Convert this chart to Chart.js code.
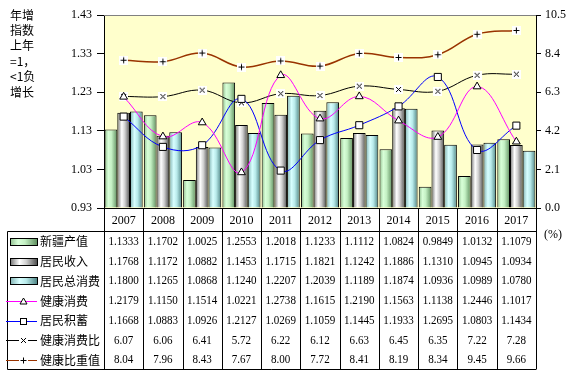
<!DOCTYPE html>
<html>
<head>
<meta charset="utf-8">
<script src="https://cdn.jsdelivr.net/npm/chart.js@4.4.0/dist/chart.umd.min.js"></script>
<style>
html,body{margin:0;padding:0;background:#fff;}
#wrap{position:relative;width:577px;height:375px;}
</style>
</head>
<body>
<div id="wrap"><canvas id="c" width="577" height="375"></canvas></div>
<script>
// ---- data ----
const years = ['2007','2008','2009','2010','2011','2012','2013','2014','2015','2016','2017'];
const xinjiang = [1.1333,1.1702,1.0025,1.2553,1.2018,1.1233,1.1112,1.0824,0.9849,1.0132,1.1079];
const income = [1.1768,1.1172,1.0882,1.1453,1.1715,1.1821,1.1242,1.1886,1.1310,1.0945,1.0934];
const consumption = [1.1800,1.1265,1.0868,1.1240,1.2207,1.2039,1.1189,1.1874,1.0936,1.0989,1.0780];
const health = [1.2179,1.1150,1.1514,1.0221,1.2738,1.1615,1.2190,1.1563,1.1138,1.2446,1.1017];
const savings = [1.1668,1.0883,1.0926,1.2127,1.0269,1.1059,1.1445,1.1933,1.2695,1.0803,1.1434];
const healthRatio = [6.07,6.06,6.41,5.72,6.22,6.12,6.63,6.45,6.35,7.22,7.28];
const healthWeight = [8.04,7.96,8.43,7.67,8.00,7.72,8.41,8.19,8.34,9.45,9.66];
const leftTicks = [0.93,1.03,1.13,1.23,1.33,1.43];
const rightTicks = [0,2.1,4.2,6.3,8.4,10.5];
const names = ['新疆产值','居民收入','居民总消费','健康消费','居民积蓄','健康消费比','健康比重值'];
const sideNote = ['年增','指数','上年','=1，','<1负','增长'];
const unitLabel = '(%)';

// ---- styles ----
const NUM_FONT = "'Liberation Serif','Times New Roman',serif";
const CJK_FONT = "'Noto Sans CJK SC','Noto Sans',sans-serif";
const gradStops = [
  [[0,'#8fbf8f'],[0.3,'#d8ffd8'],[0.55,'#c4f0c4'],[1,'#5f8f5f']],
  [[0,'#707070'],[0.35,'#ffffff'],[0.6,'#d0d0d0'],[1,'#505050']],
  [[0,'#7fb0b0'],[0.35,'#d8ffff'],[0.6,'#b8eaea'],[1,'#4f8585']]
];
const CAT_PCT = 0.97, BAR_PCT = 1.0;

function makeGrad(g, x0, x1, stops){
  const gr = g.createLinearGradient(x0,0,x1,0);
  stops.forEach(s=>gr.addColorStop(s[0],s[1]));
  return gr;
}
function barBg(k){
  return function(ctx){
    const chart = ctx.chart;
    const xs = chart.scales.x;
    if(!xs || !chart.chartArea || ctx.dataIndex===undefined) return gradStops[k][1][1];
    const cw = xs.width / years.length;
    const cx = xs.getPixelForValue(ctx.dataIndex);
    const bw = cw*CAT_PCT*BAR_PCT/3;
    const left = cx - cw*CAT_PCT/2 + k*bw;
    return makeGrad(chart.ctx, left, left+bw, gradStops[k]);
  };
}
function markerCanvas(type){
  const c = document.createElement('canvas');
  c.width = 9; c.height = 9;
  const g = c.getContext('2d');
  g.fillStyle = '#fff'; g.fillRect(0,0,9,9);
  g.strokeStyle = '#000'; g.lineWidth = 1;
  g.beginPath();
  if(type==='plus'){
    g.moveTo(4.5,1.5); g.lineTo(4.5,7.5); g.moveTo(1.5,4.5); g.lineTo(7.5,4.5);
  } else {
    g.moveTo(2,2); g.lineTo(7,7); g.moveTo(7,2); g.lineTo(2,7);
  }
  g.stroke();
  return c;
}
const plusImg = markerCanvas('plus');
const crossImg = markerCanvas('cross');

const barDs = (label, data, k) => ({
  type:'bar', label, data, yAxisID:'y', order:1, base:leftTicks[0],
  backgroundColor: barBg(k), borderColor:'#000', borderWidth:1,
  categoryPercentage:CAT_PCT, barPercentage:BAR_PCT
});
const lineDs = (label, data, axis, color, style, r, bw) => ({
  type:'line', label, data, yAxisID:axis, order:0,
  borderColor:color, borderWidth:bw, tension:0.4, fill:false,
  pointStyle:style, pointRadius:r, pointBackgroundColor:'#fff',
  pointBorderColor:'#000', pointBorderWidth:1
});

const tablePlugin = {
  id:'tbl',
  beforeDraw(chart){
    const {ctx, chartArea:a} = chart;
    ctx.save();
    ctx.fillStyle = '#ffffcc';
    ctx.fillRect(a.left, a.top, a.right-a.left, a.bottom-a.top);
    ctx.restore();
  },
  afterDraw(chart){
    const {ctx, chartArea:a} = chart;
    const n = years.length;
    const cw = (a.right-a.left)/n;
    const hdr = Math.round(a.bottom + 23) + 0.5;
    const rowH = 19.7;
    const bottom = Math.round(hdr + rowH*7) + 0.5;
    const tl = 7.5;
    ctx.save();
    // top border of plot
    ctx.strokeStyle = '#808080'; ctx.lineWidth = 1;
    ctx.beginPath(); ctx.moveTo(a.left, Math.round(a.top)+0.5); ctx.lineTo(a.right, Math.round(a.top)+0.5); ctx.stroke();
    // table lines
    ctx.strokeStyle = '#000';
    ctx.beginPath();
    ctx.moveTo(tl, hdr); ctx.lineTo(a.right, hdr);
    ctx.moveTo(tl, bottom); ctx.lineTo(a.right, bottom);
    ctx.moveTo(tl, hdr); ctx.lineTo(tl, bottom);
    for(let i=0;i<=n;i++){
      const x = Math.round(a.left + i*cw) + 0.5;
      ctx.moveTo(x, a.bottom); ctx.lineTo(x, bottom);
    }
    ctx.stroke();

    const rows = [
      {vals:xinjiang, dec:4, key:'bar', k:0},
      {vals:income, dec:4, key:'bar', k:1},
      {vals:consumption, dec:4, key:'bar', k:2},
      {vals:health, dec:4, key:'tri', color:'#ff00ff'},
      {vals:savings, dec:4, key:'rect', color:'#0000ff'},
      {vals:healthRatio, dec:2, key:'img', img:crossImg, color:'#000'},
      {vals:healthWeight, dec:2, key:'img', img:plusImg, color:'#993300'}
    ];
    rows.forEach((r, ri)=>{
      const cy = hdr + rowH*(ri+0.5) + 0.5;
      // legend key
      if(r.key==='bar'){
        ctx.fillStyle = makeGrad(ctx, 10, 37, gradStops[r.k]);
        ctx.fillRect(10, Math.round(cy)-3, 27, 6);
        ctx.strokeStyle = '#000';
        ctx.strokeRect(10.5, Math.round(cy)-3.5, 27, 7);
      } else {
        ctx.strokeStyle = r.color; ctx.lineWidth = 1;
        ctx.beginPath(); ctx.moveTo(6, Math.round(cy)+0.5); ctx.lineTo(37, Math.round(cy)+0.5); ctx.stroke();
        const mx = 23.5, my = Math.round(cy)+0.5;
        ctx.fillStyle = '#fff'; ctx.strokeStyle = '#000';
        if(r.key==='tri'){
          ctx.beginPath(); ctx.moveTo(mx, my-3.5); ctx.lineTo(mx+3.5, my+2.5); ctx.lineTo(mx-3.5, my+2.5); ctx.closePath();
          ctx.fill(); ctx.stroke();
        } else if(r.key==='rect'){
          ctx.fillRect(mx-3, my-3, 6, 6); ctx.strokeRect(mx-3, my-3, 6, 6);
        } else {
          ctx.drawImage(r.img, Math.round(mx-4.5), Math.round(my-4.5));
        }
      }
      ctx.fillStyle = '#000';
      ctx.font = '12px ' + CJK_FONT;
      ctx.textAlign = 'left'; ctx.textBaseline = 'middle';
      ctx.fillText(names[ri], 40, cy);
      // values
      ctx.font = '12px ' + NUM_FONT;
      ctx.textAlign = 'center';
      r.vals.forEach((v, i)=>{
        const x = a.left + (i+0.5)*cw;
        ctx.save();
        ctx.translate(x, cy);
        ctx.scale(0.92, 1);
        ctx.fillText(v.toFixed(r.dec), 0, 0);
        ctx.restore();
      });
    });
    // side note
    ctx.fillStyle = '#000';
    ctx.font = '12px ' + CJK_FONT;
    ctx.textAlign = 'left'; ctx.textBaseline = 'middle';
    sideNote.forEach((t,i)=>ctx.fillText(t, 10, 15 + i*15.4));
    // unit label
    ctx.font = '12px ' + NUM_FONT;
    ctx.fillText(unitLabel, 544, hdr + 3);
    ctx.restore();
  }
};

new Chart(document.getElementById('c'), {
  data:{
    labels: years,
    datasets:[
      barDs(names[0], xinjiang, 0),
      barDs(names[1], income, 1),
      barDs(names[2], consumption, 2),
      lineDs(names[3], health, 'y', '#ff00ff', 'triangle', 4.5, 1),
      lineDs(names[4], savings, 'y', '#0000ff', 'rect', 5, 1),
      lineDs(names[5], healthRatio, 'y1', '#000000', crossImg, 4.5, 1),
      lineDs(names[6], healthWeight, 'y1', '#993300', plusImg, 4.5, 1.5)
    ]
  },
  options:{
    responsive:false, animation:false, devicePixelRatio:1,
    layout:{padding:{top:15, left:0, right:0, bottom:0}},
    plugins:{legend:{display:false}, tooltip:{enabled:false}},
    scales:{
      x:{
        type:'category', offset:true,
        grid:{display:false, drawTicks:false},
        border:{display:true, color:'#000', width:1},
        ticks:{padding:6, color:'#000', font:{family:NUM_FONT, size:12}, maxRotation:0, autoSkip:false},
        afterFit(s){ s.height = 167; }
      },
      y:{
        position:'left', min:leftTicks[0], max:leftTicks[leftTicks.length-1],
        afterBuildTicks(s){ s.ticks = leftTicks.map(v=>({value:v})); },
        grid:{drawOnChartArea:false, drawTicks:true, tickLength:7, tickColor:'#000'},
        border:{display:true, color:'#000', width:1},
        ticks:{padding:5, color:'#000', font:{family:NUM_FONT, size:12}, callback:v=>Number(v).toFixed(2)},
        afterFit(s){ s.width = 104; }
      },
      y1:{
        position:'right', min:rightTicks[0], max:rightTicks[rightTicks.length-1],
        afterBuildTicks(s){ s.ticks = rightTicks.map(v=>({value:v})); },
        grid:{drawOnChartArea:false, drawTicks:true, tickLength:5, tickColor:'#000'},
        border:{display:true, color:'#000', width:1},
        ticks:{padding:4, color:'#000', font:{family:NUM_FONT, size:12}, callback:v=>Number(v).toFixed(1)},
        afterFit(s){ s.width = 41; }
      }
    }
  },
  plugins:[tablePlugin]
});
</script>
</body>
</html>
